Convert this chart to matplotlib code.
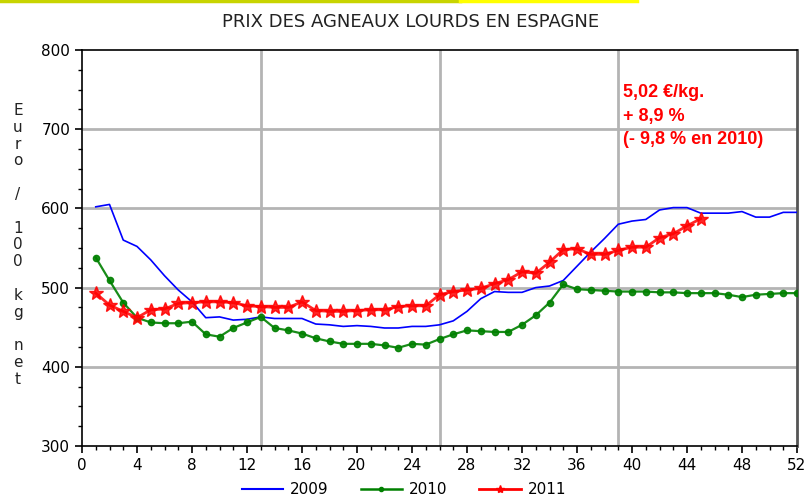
import matplotlib
matplotlib.use("Agg")
import matplotlib.pyplot as plt
from matplotlib.ticker import MultipleLocator
from matplotlib.lines import Line2D

weeks = list(range(1, 53))
y2009 = [602, 605, 560, 552, 535, 515, 497, 482, 462, 463, 459, 460, 463, 461, 461, 461,
         454, 453, 451, 452, 451, 449, 449, 451, 451, 453, 458, 470, 486, 495, 494, 494,
         500, 502, 509, 527, 545, 562, 580, 584, 586, 598, 601, 601, 594, 594, 594, 596,
         589, 589, 595, 595]
y2010 = [538, 509, 481, 462, 456, 455, 455, 457, 441, 438, 449, 456, 463, 449, 446, 442,
         436, 432, 429, 429, 429, 427, 424, 429, 428, 435, 441, 446, 445, 444, 444, 453,
         465, 481, 504, 498, 497, 496, 495, 495, 495, 494, 494, 493, 493, 493, 491, 488,
         491, 492, 493, 493]
weeks2011 = list(range(1, 46))
y2011 = [493, 478, 470, 462, 472, 473, 480, 481, 482, 482, 481, 477, 476, 475, 475, 482,
         471, 470, 470, 471, 472, 472, 476, 477, 477, 491, 495, 497, 499, 505, 510, 520,
         518, 532, 548, 549, 542, 542, 547, 551, 551, 563, 568, 578, 587]
series_labels = ["2009", "2010", "2011"]
title = "PRIX DES AGNEAUX LOURDS EN ESPAGNE"
note = "5,02 €/kg.\n+ 8,9 %\n(- 9,8 % en 2010)"

fig = plt.figure(figsize=(8.07, 5.0), dpi=100)
ax = fig.add_axes([82/807, 54/500, (797-82)/807, (446-50)/500])

gridc = "#b4b4b4"
for v in [400, 500, 600, 700]:
    ax.axhline(v, color=gridc, lw=2, zorder=0)
for v in [13, 26, 39]:
    ax.axvline(v, color=gridc, lw=2, zorder=0)

ax.plot(weeks, y2009, color="#0000ff", lw=1.2, zorder=3)
ax.plot(weeks, y2010, color="#008000", lw=1.6, marker="o", ms=4.5, zorder=3, alpha=0.9)
ax.plot(weeks2011, y2011, color="#ff0000", lw=2.0, marker="*", ms=10, zorder=4, alpha=0.85)

ax.set_xlim(0, 52)
ax.set_ylim(300, 800)
ax.xaxis.set_major_locator(MultipleLocator(4))
ax.xaxis.set_minor_locator(MultipleLocator(1))
ax.yaxis.set_major_locator(MultipleLocator(100))
ax.yaxis.set_minor_locator(MultipleLocator(25))
ax.tick_params(axis="both", which="major", direction="out", length=5, width=1.2,
               labelsize=11, colors="black")
ax.tick_params(axis="both", which="minor", direction="out", length=3, width=1)
for s in ["left", "bottom", "top"]:
    ax.spines[s].set_color("black")
    ax.spines[s].set_linewidth(1.2)
ax.spines["right"].set_color("#555555")
ax.spines["right"].set_linewidth(2)

fig.text(411/807, 1 - 22/500, title, ha="center", va="center", fontsize=13, color="#222222")
fig.text(18/807, 1 - 245/500, "\n".join(list("Euro")) + "\n\n/\n\n" + "\n".join(list("100")) +
         "\n\n" + "\n".join(list("kg")) + "\n\n" + "\n".join(list("net")),
         ha="center", va="center", fontsize=11, linespacing=1.15, color="#222222")

fig.text(623/807, 1 - 84/500, note, ha="left", va="top",
         fontsize=13, fontweight="bold", color="#ff0000", linespacing=1.5,
         family="Liberation Sans")

# top decorative line
fig.add_artist(Line2D([0, 460/807], [0.998, 0.998], color="#c8d400", lw=2.5, transform=fig.transFigure))
fig.add_artist(Line2D([460/807, 637/807], [0.998, 0.998], color="#ffff00", lw=2.5, transform=fig.transFigure))

handles = [
    Line2D([], [], color="#0000ff", lw=1.5),
    Line2D([], [], color="#008000", lw=1.8, marker="o", ms=3, markevery=[1]),
    Line2D([], [], color="#ff0000", lw=2, marker="*", ms=6, markevery=[1]),
]
fig.legend(handles, series_labels, loc="center", bbox_to_anchor=(404/807, 1 - 490/500),
           ncol=3, frameon=False, fontsize=11, handlelength=2.7, columnspacing=2.1,
           handletextpad=0.45, borderaxespad=0)

fig.savefig("out.png", dpi=100)
